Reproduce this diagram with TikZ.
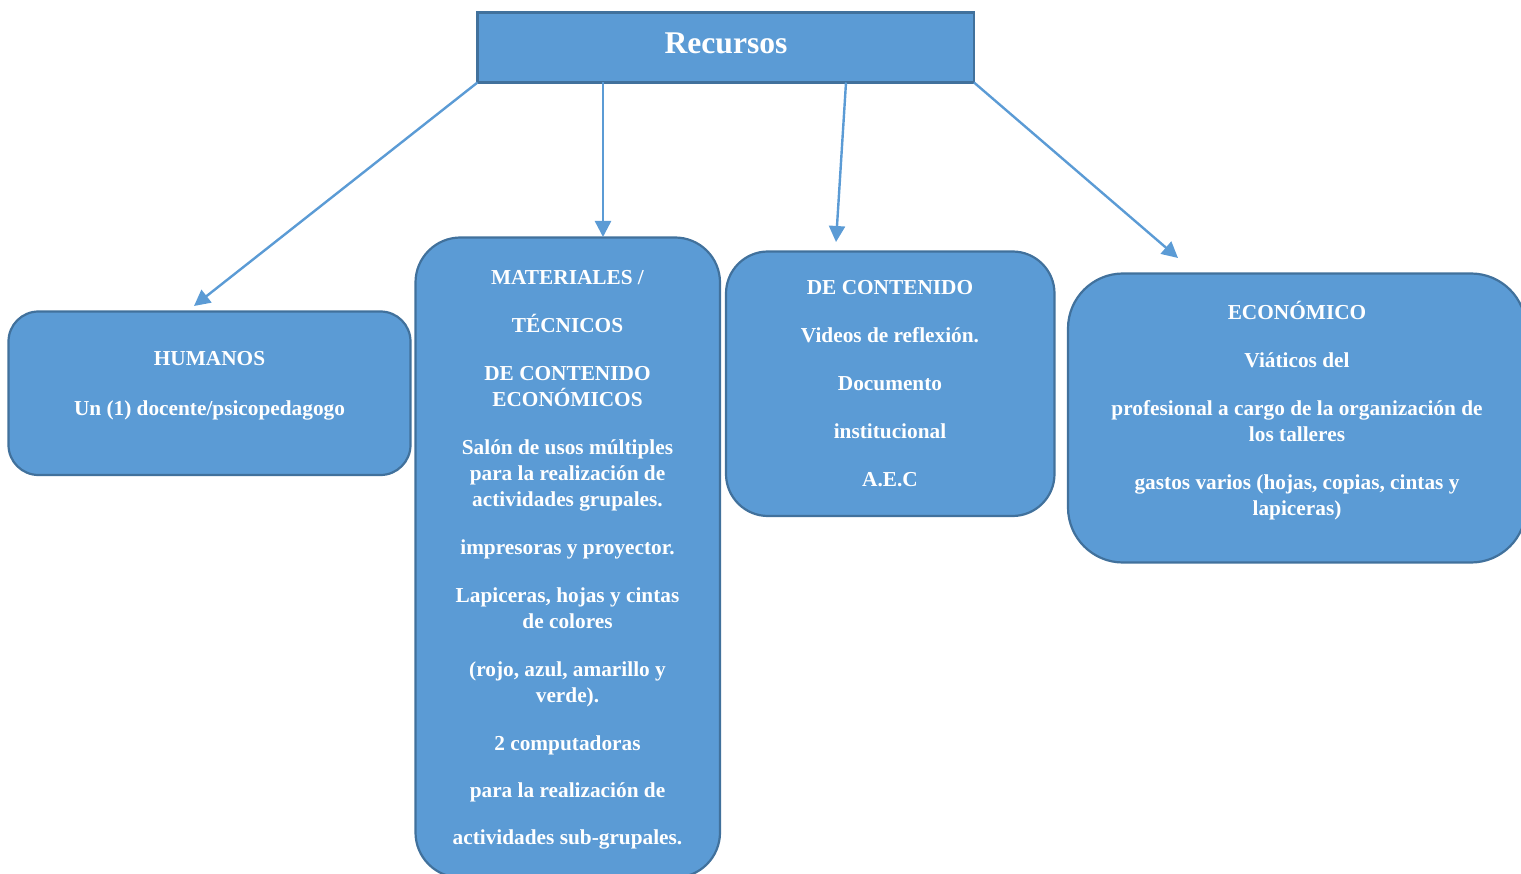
\documentclass[tikz,border=0pt]{standalone}
\usepackage{fontspec}
\setmainfont{Liberation Serif}
\usetikzlibrary{arrows.meta}
\definecolor{boxfill}{HTML}{5B9BD5}
\definecolor{boxline}{HTML}{41719C}
\newcommand\topstrut{\rule{0pt}{22pt}}
\begin{document}
\begin{tikzpicture}[x=1pt,y=-1pt,
  boxbase/.style={draw=boxline, line width=2.2pt, fill=boxfill, inner sep=0pt, outer sep=0pt, anchor=north west},
  txt/.style={text=white, font=\fontsize{21.3}{26}\selectfont\bfseries, align=center, inner sep=0pt, anchor=north},
  conn/.style={draw=boxfill, line width=2.4pt, -{Triangle[length=16pt,width=16pt]}}]
\useasboundingbox (0,0) rectangle (1521,874);
% boxes
\node[boxbase, minimum width=496.5pt, minimum height=70pt] (top) at (477.5,12.5) {};
\node[boxbase, rounded corners=30pt, minimum width=402pt, minimum height=163.5pt] (hum) at (8.5,311.5) {};
\node[boxbase, rounded corners=45pt, minimum width=304.5pt, minimum height=640pt] (mat) at (415.5,237.5) {};
\node[boxbase, rounded corners=42pt, minimum width=328.5pt, minimum height=264.5pt] (con) at (726,251.5) {};
\node[boxbase, rounded corners=55pt, minimum width=458pt, minimum height=289pt] (eco) at (1068,273.5) {};
% texts
\node[text=white, font=\fontsize{31.6}{36}\selectfont\bfseries, inner sep=0pt, anchor=base] (toptxt) at (726,54) {Recursos};
\node[txt] (humtxt) at (209.5,343) {\topstrut HUMANOS\\[24pt]Un (1) docente/psicopedagogo};
\node[txt] (mattxt) at (567.5,262) {\topstrut MATERIALES /\\[22pt]
TÉCNICOS\\[22pt]
DE CONTENIDO\\
ECONÓMICOS\\[22pt]
Salón de usos múltiples\\para la realización de\\actividades grupales.\\[22pt]
impresoras y proyector.\\[22pt]
Lapiceras, hojas y cintas\\de colores\\[22pt]
(rojo, azul, amarillo y\\verde).\\[22pt]
2 computadoras\\[21pt]
para la realización de\\[21pt]
actividades sub-grupales.};
\node[txt] (contxt) at (890,272) {\topstrut DE CONTENIDO\\[22pt]Videos de reflexión.\\[22pt]Documento\\[22pt]institucional\\[22pt]A.E.C};
\node[txt] (ecotxt) at (1297,297) {\topstrut ECONÓMICO\\[22pt]Viáticos del\\[22pt]profesional a cargo de la organización de\\los talleres\\[22pt]gastos varios (hojas, copias, cintas y\\lapiceras)};
% connectors
\coordinate (t1) at (194,306);
\coordinate (t2) at (603,237);
\coordinate (s3) at (846,0);
\coordinate (t3) at (836,242);
\coordinate (t4) at (1178,258);
\draw[conn] (top.south west) -- (t1);
\draw[conn] (top.south -| t2) -- (t2);
\draw[conn] (top.south -| s3) -- (t3);
\draw[conn] (top.south east) -- (t4);
\end{tikzpicture}
\end{document}
